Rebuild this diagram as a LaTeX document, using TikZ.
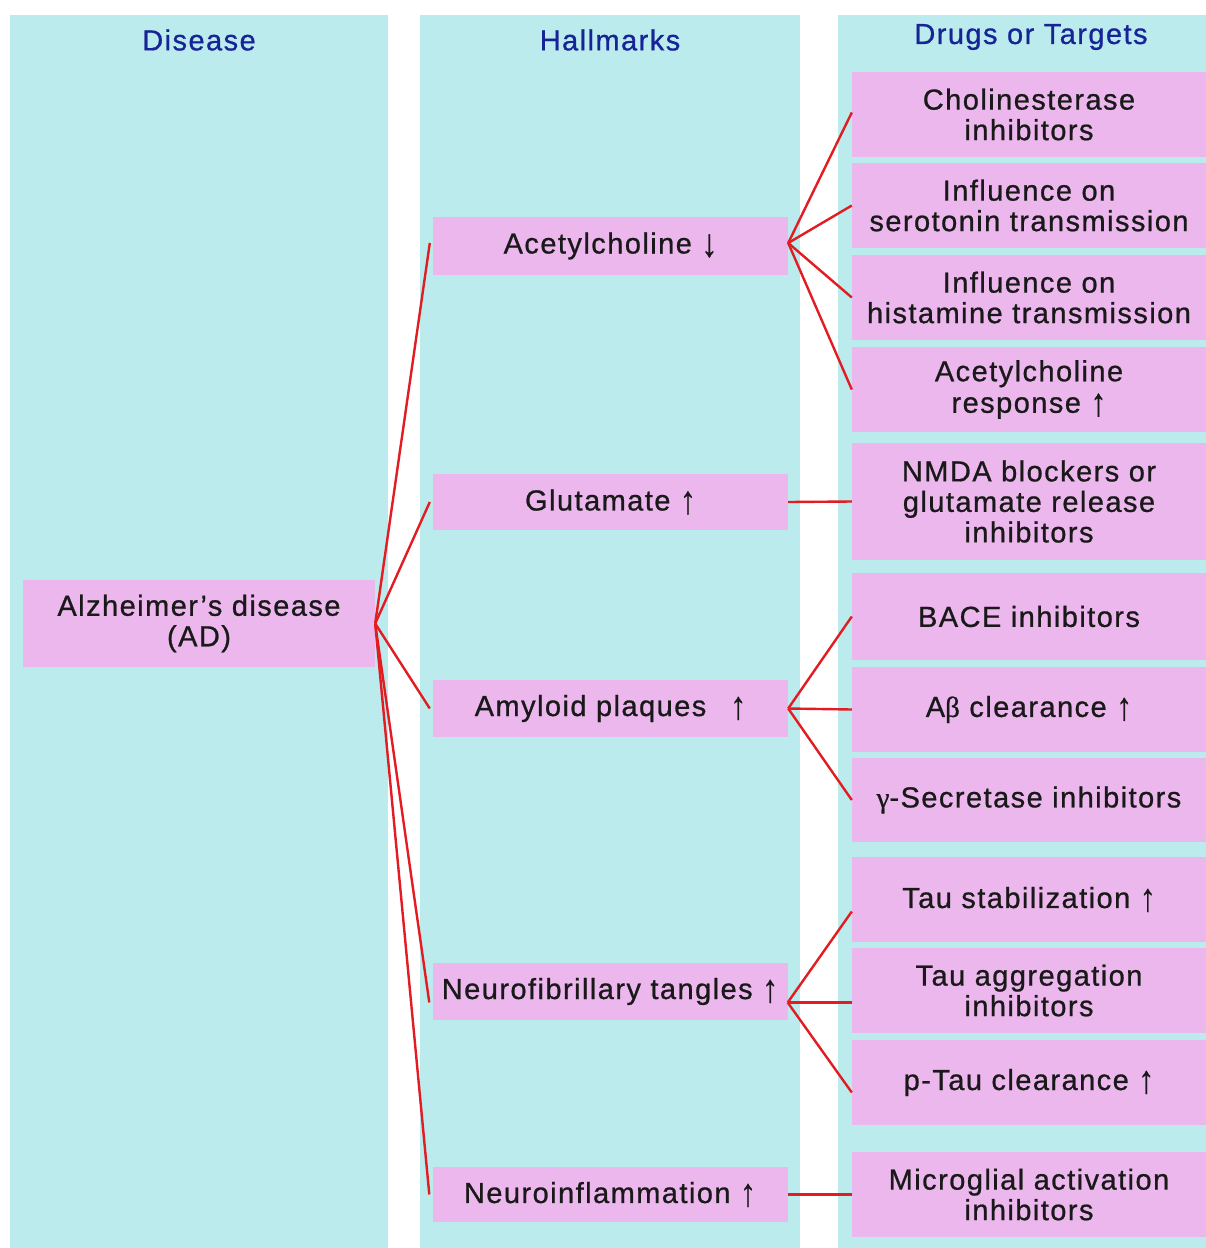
\documentclass[tikz,border=0pt]{standalone}
\usepackage{fontspec}
\usepackage{graphicx}
\setmainfont{Liberation Sans}[LetterSpace=5,FakeBold=0.8]
\newfontfamily\grk{Liberation Serif}[FakeBold=0.8]
\newcommand\uparr{\raisebox{-0.1em}{\scalebox{1.1}[1.35]{↑}}}
\newcommand\dnarr{\raisebox{-0.1em}{\scalebox{1.1}[1.35]{↓}}}
\definecolor{colbg}{RGB}{188,235,237}
\definecolor{boxpink}{RGB}{236,183,236}
\definecolor{headblue}{RGB}{22,36,150}
\definecolor{linkred}{RGB}{226,28,34}
\begin{document}
\begin{tikzpicture}[x=1pt,y=-1pt,
  pbox/.style={fill=boxpink, inner sep=0pt, align=center, font=\fontsize{29}{30.5}\selectfont, text=black!90},
  hbox/.style={pbox, minimum width=355pt},
  dbox/.style={pbox, minimum width=354pt, minimum height=85pt},
  head/.style={font=\fontsize{29}{31}\selectfont, text=headblue, inner sep=0pt},
  link/.style={draw=linkred, line width=2.4pt}]
\useasboundingbox (0,0) rectangle (1206,1248);
\fill[white] (0,0) rectangle (1206,1248);
% columns
\fill[colbg] (10,15) rectangle (388,1248);
\fill[colbg] (420,15) rectangle (800,1248);
\fill[colbg] (838,15) rectangle (1206,1248);
% headings
\node[head] (h1) at (199,40) {Disease};
\node[head] (h2) at (610,40) {Hallmarks};
\node[head] (h3) at (1031,37) {Drugs or Targets};
% disease
\node[pbox, minimum width=352pt, minimum height=87pt] (ad) at (199,623.5) {Alzheimer’s disease\\(AD)};
% hallmarks
\node[hbox, minimum height=58pt] (ach) at (610.5,246) {Acetylcholine \dnarr};
\node[hbox, minimum height=56pt] (glu) at (610.5,502) {Glutamate \uparr};
\node[hbox, minimum height=57pt] (amy) at (610.5,708.5) {Amyloid plaques\hspace{0.5em} \uparr};
\node[hbox, minimum height=57pt] (nft) at (610,991.5) {Neurofibrillary tangles \uparr};
\node[hbox, minimum height=55pt] (ni) at (610,1194.5) {Neuroinflammation \uparr};
% drugs / targets
\node[dbox] (d1) at (1029,114.5) {Cholinesterase\\inhibitors};
\node[dbox] (d2) at (1029,205.5) {Influence on\\serotonin transmission};
\node[dbox] (d3) at (1029,297.5) {Influence on\\histamine transmission};
\node[dbox] (d4) at (1029,389.5) {Acetylcholine\\[1pt]response \uparr};
\node[dbox, minimum height=117pt] (d5) at (1029,501.5) {NMDA blockers or\\glutamate release\\inhibitors};
\node[dbox, minimum height=87pt] (d6) at (1029,616.5) {BACE inhibitors};
\node[dbox] (d7) at (1029,709.5) {A{\grk β} clearance \uparr};
\node[dbox, minimum height=84pt] (d8) at (1029,800) {{\grk γ}-Secretase inhibitors};
\node[dbox] (d9) at (1029,899.5) {Tau stabilization \uparr};
\node[dbox] (d10) at (1029,990.5) {Tau aggregation\\inhibitors};
\node[dbox] (d11) at (1029,1082.5) {p-Tau clearance \uparr};
\node[dbox] (d12) at (1029,1194.5) {Microglial activation\\inhibitors};
% disease -> hallmarks
\draw[link] (ad.east) -- ([xshift=-3pt,yshift=3pt]ach.west);
\draw[link] (ad.east) -- ([xshift=-3pt]glu.west);
\draw[link] (ad.east) -- ([xshift=-3pt]amy.west);
\draw[link] (ad.east) -- ([xshift=-3pt,yshift=-11pt]nft.west);
\draw[link] (ad.east) -- ([xshift=-3pt]ni.west);
% hallmarks -> drugs
\draw[link] ([yshift=3pt]ach.east) -- ([yshift=2pt]d1.west);
\draw[link] ([yshift=3pt]ach.east) -- (d2.west);
\draw[link] ([yshift=3pt]ach.east) -- (d3.west);
\draw[link] ([yshift=3pt]ach.east) -- (d4.west);
\draw[link] (glu.east) -- (d5.west);
\draw[link] (amy.east) -- (d6.west);
\draw[link] (amy.east) -- (d7.west);
\draw[link] (amy.east) -- (d8.west);
\draw[link] ([yshift=-11pt]nft.east) -- ([yshift=-12pt]d9.west);
\draw[link] ([yshift=-11pt]nft.east) -- ([yshift=-12pt]d10.west);
\draw[link] ([yshift=-11pt]nft.east) -- ([yshift=-10pt]d11.west);
\draw[link] (ni.east) -- (d12.west);
\end{tikzpicture}
\end{document}
